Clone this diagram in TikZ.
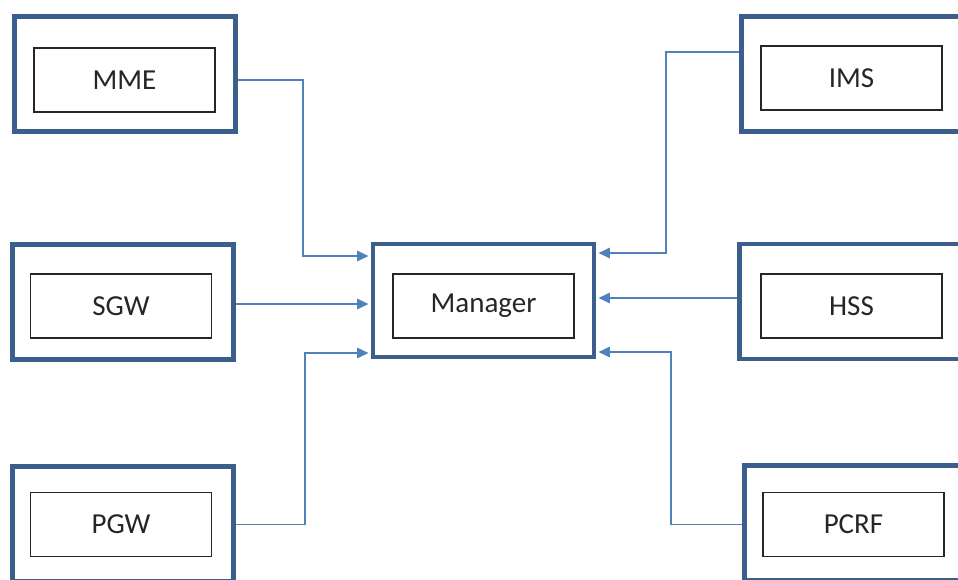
\documentclass[tikz,border=0pt]{standalone}
\usepackage{fontspec}
\setmainfont{Carlito}
\usetikzlibrary{arrows.meta}
\definecolor{boxblue}{RGB}{59,94,140}
\definecolor{linkblue}{RGB}{79,129,189}
\begin{document}
\begin{tikzpicture}[
	x=0.02cm, y=-0.02cm,
	outerbox/.style={shape=rectangle, draw=boxblue, line width=2.8pt, minimum width=4.42cm, minimum height=2.3cm},
	innerbox/.style={shape=rectangle, draw=black!85, line width=0.8pt, minimum width=3.62cm, minimum height=1.28cm, font=\fontsize{16.5}{19}\selectfont, text=black!85},
	link/.style={draw=linkblue, line width=0.8pt, -{Triangle[length=6.5pt, width=6pt]}, shorten >=1.2pt},
]
\useasboundingbox (0,0) rectangle (958,579);
\clip (0,0) rectangle (958,579);
\node[outerbox] (mme) at (125,74) {};
\node[innerbox] (mmein) at (124.5,80) {MME};
\node[outerbox] (sgw) at (123,302) {};
\node[innerbox] (sgwin) at (121,306) {SGW};
\node[outerbox] (pgw) at (123,524) {};
\node[innerbox] (pgwin) at (121,524.5) {PGW};
\node[outerbox, minimum height=2.26cm] (mgr) at (483.5,300.5) {};
\node[innerbox] (mgrin) at (483.5,306) {Manager};
\node[outerbox] (ims) at (852,74) {};
\node[innerbox] (imsin) at (851.5,78) {IMS};
\node[outerbox] (hss) at (850,301.5) {};
\node[innerbox] (hssin) at (851.5,306) {HSS};
\node[outerbox] (pcrf) at (855,523) {};
\node[innerbox] (pcrfin) at (853.5,524.5) {PCRF};

\draw[link] (mme.east |- mmein) -| (303,256) -- (mgr.west |- 0,256);
\draw[link] (sgw.east |- 0,304) -- (mgr.west |- 0,304);
\draw[link] (pgw.east |- pgwin) -| (305,353) -- (mgr.west |- 0,353);
\draw[link] (ims.west |- 0,52) -| (666,253) -- (mgr.east |- 0,253);
\draw[link] (hss.west |- 0,298) -- (mgr.east |- 0,298);
\draw[link] (pcrf.west |- pcrfin) -| (671,352) -- (mgr.east |- 0,352);
\end{tikzpicture}
\end{document}
